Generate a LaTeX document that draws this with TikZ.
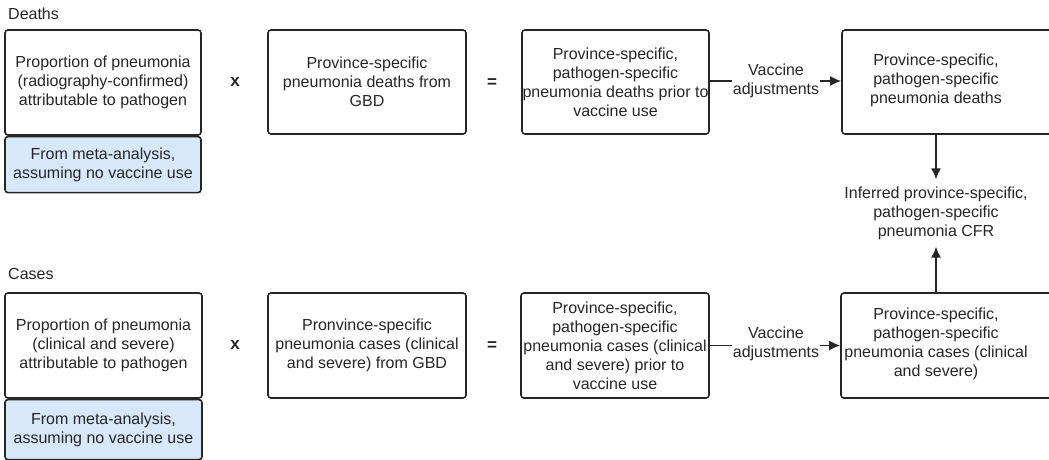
\documentclass[tikz,border=0pt]{standalone}
\usepackage{fontspec}
\setmainfont{Liberation Sans}
\usepackage{xcolor}
\usetikzlibrary{positioning}
\usetikzlibrary{arrows.meta}
\usetikzlibrary{calc}

\definecolor{srcblue}{HTML}{D6E8FA}
\definecolor{inkgray}{HTML}{262626}

\tikzset{
  box/.style={draw=inkgray, line width=1.6pt, rounded corners=3pt, align=center, inner sep=0pt, text=inkgray},
  srcbox/.style={box, fill=srcblue},
  plain/.style={align=center, inner sep=1pt, text=inkgray},
  op/.style={font=\fontsize{17}{19}\selectfont\bfseries, text=inkgray},
  link/.style={draw=inkgray, line width=1.6pt},
  flow/.style={link, -{Latex[length=11pt,width=10pt]}},
}

\begin{document}
\begin{tikzpicture}[x=1pt,y=-1pt,font=\fontsize{16}{19}\selectfont]

\clip (0,0) rectangle (1049,459);

% deaths
\node[plain, anchor=west] (deathshead) at (7,14) {Deaths};
\node[box, minimum width=196pt, minimum height=105pt] (dprop) at (103,82.5) {Proportion of pneumonia\\(radiography-confirmed)\\attributable to pathogen};
\node[srcbox, minimum width=196pt, minimum height=56pt, below=0pt of dprop] (dsrc) {From meta-analysis,\\assuming no vaccine use};
\node[op] (dtimes) at (235,82) {x};
\node[box, minimum width=198pt, minimum height=104pt] (dgbd) at (367,82) {Province-specific\\pneumonia deaths from\\GBD};
\node[op] (dequals) at (492,83) {=};
\node[box, minimum width=187pt, minimum height=104pt] (dprior) at (615.5,82) {Province-specific,\\pathogen-specific\\pneumonia deaths prior to\\vaccine use};
\node[plain] (dvacc) at (776,81) {Vaccine\\adjustments};
\node[box, minimum width=220pt, minimum height=104pt] (dfinal) at (952,82) {};
\node[plain] (dfinaltext) at (936,80) {Province-specific,\\pathogen-specific\\pneumonia deaths};

\draw[link] (dprior.east |- dvacc.west) -- (dvacc.west);
\draw[flow] (dvacc.east) -- (dvacc.east -| dfinal.west);

% cfr
\node[plain, inner sep=7pt] (cfr) at (936,213) {Inferred province-specific,\\pathogen-specific\\pneumonia CFR};
\draw[flow] (cfr.north |- dfinal.south) -- (cfr.north);

% cases
\node[plain, anchor=west] (caseshead) at (7,274) {Cases};
\node[box, minimum width=197pt, minimum height=105pt] (cprop) at (103.5,345.5) {Proportion of pneumonia\\(clinical and severe)\\attributable to pathogen};
\node[srcbox, minimum width=197pt, minimum height=60pt, below=0pt of cprop] (csrc) {From meta-analysis,\\assuming no vaccine use};
\node[op] (ctimes) at (235,345) {x};
\node[box, minimum width=198pt, minimum height=105pt] (cgbd) at (367,345.5) {Pronvince-specific\\pneumonia cases (clinical\\and severe) from GBD};
\node[op] (cequals) at (492,346) {=};
\node[box, minimum width=188pt, minimum height=105pt] (cprior) at (615,345.5) {Province-specific,\\pathogen-specific\\pneumonia cases (clinical\\and severe) prior to\\vaccine use};
\node[plain] (cvacc) at (776,344) {Vaccine\\adjustments};
\node[box, minimum width=220pt, minimum height=105pt] (cfinal) at (951,345.5) {};
\node[plain] (cfinaltext) at (936,344) {Province-specific,\\pathogen-specific\\pneumonia cases (clinical\\and severe)};

\draw[link] (cprior.east) -- (cprior.east -| cvacc.west);
\draw[flow] (cvacc.east |- cfinal.west) -- (cfinal.west);
\draw[flow] (cfr.south |- cfinal.north) -- (cfr.south);

\end{tikzpicture}
\end{document}
